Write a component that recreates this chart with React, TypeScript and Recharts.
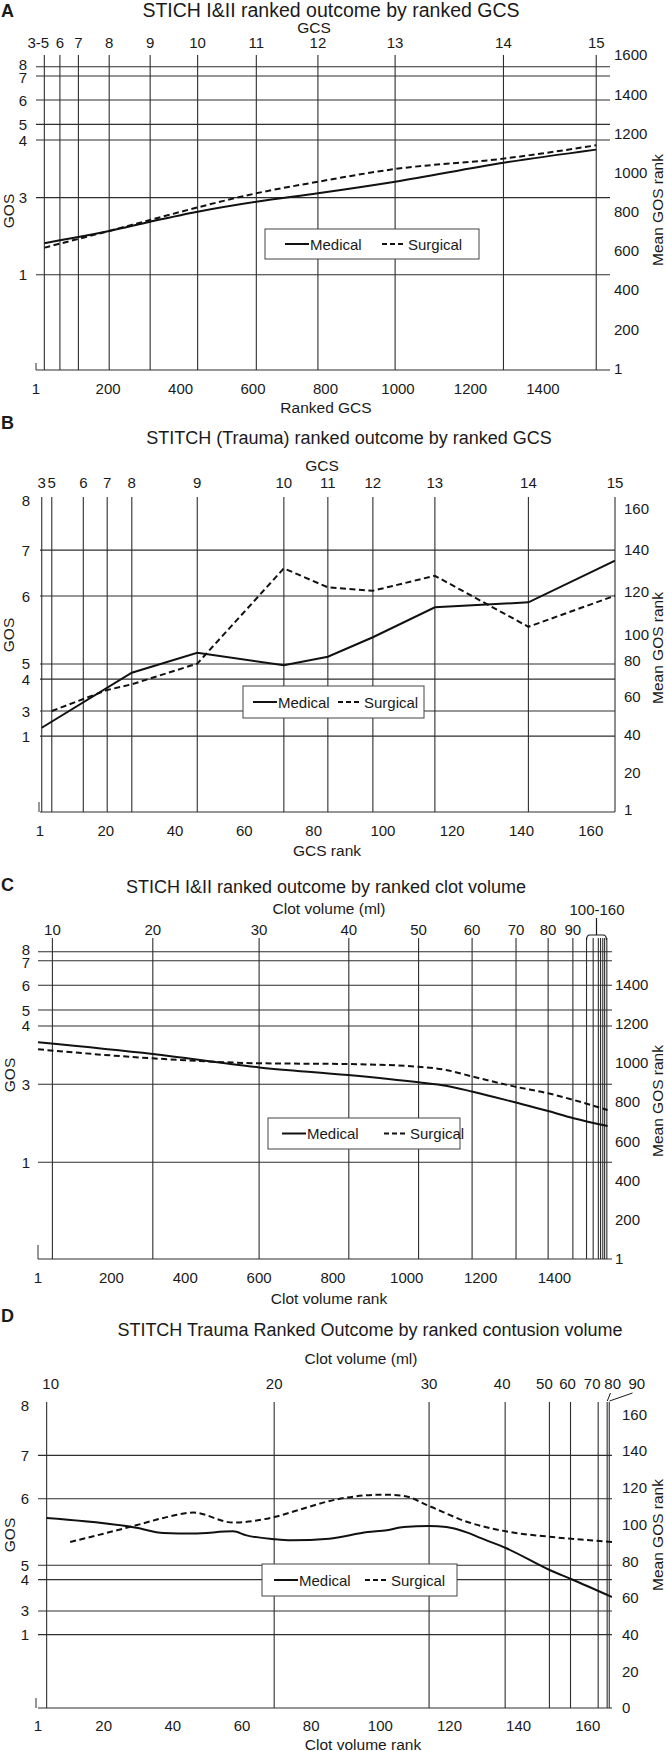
import React from 'react';
import { ComposedChart, Line, XAxis, YAxis, ReferenceLine } from 'recharts';

const W = 666;
const FONT = 'Arial, "Liberation Sans", Helvetica, sans-serif';
const INK = '#1a1a1a';
const GRID = '#2e2e2e';

// ---------- A: STICH I&II, outcome by ranked GCS ----------
const aGcsRanks = [24, 67, 118, 203, 316, 447, 609, 779, 992, 1291, 1547];
const aGcsLabels = ['3-5', '6', '7', '8', '9', '10', '11', '12', '13', '14', '15'];
const aRankTicks = [1, 200, 400, 600, 800, 1000, 1200, 1400];
const aMeanTicks = [1, 200, 400, 600, 800, 1000, 1200, 1400, 1600];
const aGosRanks = [478, 872, 1166, 1246, 1370, 1493, 1540];
const aGosLabels = ['1', '3', '4', '5', '6', '7', '8'];
const aMedical = [639, 654, 671, 702, 749, 800, 851, 894, 953, 1050, 1117];
const aSurgical = [616, 637, 661, 702, 758, 822, 894, 953, 1018, 1071, 1139];

// ---------- B: STITCH (Trauma), outcome by ranked GCS ----------
const bGcsRanks = [1.5, 4.4, 13.5, 20.4, 27.5, 46.4, 71.4, 84.1, 97.1, 115, 142, 167];
const bGcsLabels = ['3', '5', '6', '7', '8', '9', '10', '11', '12', '13', '14', '15'];
const bRankTicks = [1, 20, 40, 60, 80, 100, 120, 140, 160];
// the printed right axis is not evenly spaced: label positions
const bMeanTicks = [1, 20.6, 40.6, 60.6, 80, 93.3, 116, 138, 160];
const bMeanLabels = ['1', '20', '40', '60', '80', '100', '120', '140', '160'];
const bGosRanks = [40, 53.2, 70, 78, 113.8, 138, 164.4];
const bGosLabels = ['1', '3', '4', '5', '6', '7', '8'];
const bGosLines = [40, 53.2, 70, 78, 113.8, 138];
const bMedicalRanks = [1.5, 27.5, 46.4, 71.4, 84.1, 97.1, 115, 142, 167];
const bMedical = [44.4, 73.4, 83.9, 77.3, 81.8, 92.1, 107.9, 110.5, 132.4];
const bSurgicalRanks = [4.4, 20.4, 27.5, 46.4, 71.4, 84.1, 97.1, 115, 142, 167];
const bSurgical = [53.2, 64.3, 67.3, 78.2, 128.4, 118.4, 116.6, 124.5, 97.6, 114];

// ---------- C: STICH I&II, outcome by ranked clot volume ----------
const cVolRanks = [40, 312, 600, 843, 1032, 1177, 1296, 1383, 1450];
const cVolLabels = ['10', '20', '30', '40', '50', '60', '70', '80', '90'];
const cTailRanks = [1487, 1505, 1519, 1525, 1531, 1536, 1542]; // 100-160 ml
const cRankTicks = [1, 200, 400, 600, 800, 1000, 1200, 1400];
const cMeanTicks = [1, 200, 400, 600, 800, 1000, 1200, 1400];
const cGosRanks = [494, 891, 1188, 1269, 1395, 1520, 1566];
const cGosLabels = ['1', '3', '4', '5', '6', '7', '8'];
const cCurveRanks = [1, 312, 600, 841, 1032, 1106, 1179, 1293, 1383, 1452, 1544];
const cMedical = [1105, 1045, 977, 938, 901, 884, 853, 799, 755, 718, 678];
const cSurgical = [1069, 1023, 998, 994, 980, 964, 930, 879, 845, 811, 760];

// ---------- D: STITCH Trauma, outcome by ranked contusion volume ----------
const dVolRanks = [3.5, 69.3, 114.1, 136.1, 148.9, 155, 163, 165.6, 166.2];
const dVolLabels = ['10', '20', '30', '40', '50', '60', '70', '80', '90'];
const dRankTicks = [1, 20, 40, 60, 80, 100, 120, 140, 160];
const dMeanTicks = [0, 20, 40, 60, 80, 100, 120, 140, 160];
const dGosRanks = [40, 52.9, 70, 77.8, 114.1, 137.7, 165];
const dGosLabels = ['1', '3', '4', '5', '6', '7', '8'];
const dGosLines = [40, 52.9, 70, 77.8, 114.1, 137.7];
const dMedicalRanks = [3.5, 29.4, 37.3, 45.9, 57.4, 61.3, 69.3, 74.2, 85.2, 96.3, 101.9, 106.8, 114.1, 119.1, 125.2, 128.9, 136.3, 149.1, 155.3, 167];
const dMedical = [103.6, 98.3, 95.4, 95.1, 96.3, 94.1, 92, 91.4, 92.3, 95.9, 96.9, 98.7, 99.2, 98.7, 95.6, 92.7, 87.2, 75.1, 70.2, 60.5];
const dSurgicalRanks = [10.3, 29.4, 37.3, 45.9, 57.4, 69.3, 76.1, 87.1, 100.6, 106.8, 114.1, 125.2, 136.3, 149.8, 167];
const dSurgical = [90.5, 99.6, 103.6, 106.5, 101.1, 104.1, 107.8, 113.6, 116.3, 115.6, 110.1, 101.4, 96.3, 93.2, 90.5];

type PanelProps = {
  top: number;
  height: number;
  plot: { left: number; right: number; top: number; bottom: number };
  xDomain: [number, number];
  yDomain: [number, number];
  topTicks: number[];
  topLabels: string[];
  topDx?: number[];
  extraVLines?: number[];
  bottomTicks: number[];
  rightTicks: number[];
  rightLabels?: string[];
  gosTicks: number[];
  gosLabels: string[];
  gosDy?: number[];
  gosLines: number[];
  medX: number[];
  med: number[];
  surX: number[];
  sur: number[];
  curve: 'monotone' | 'linear';
  gaps: { top: number; bottom: number; left: number; right: number };
};

const tickStyle = { fontSize: 15, fill: INK, fontFamily: FONT };

function Panel(p: PanelProps) {
  const HT = 20;
  const HB = 30;
  const margin = { top: p.plot.top - HT, right: 0, bottom: p.height - p.plot.bottom - HB, left: 0 };
  const medData = p.medX.map((r, i) => ({ rank: r, v: p.med[i] }));
  const surData = p.surX.map((r, i) => ({ rank: r, v: p.sur[i] }));
  const vlines = [...p.topTicks, ...(p.extraVLines || [])];

  const renderTop = (t: any) => {
    const i = p.topTicks.indexOf(t.payload.value);
    const dx = p.topDx ? p.topDx[i] : 0;
    return (
      <text x={t.x + dx} y={t.y} textAnchor="middle" fontSize={15} fill={INK} fontFamily={FONT}>
        {p.topLabels[i]}
      </text>
    );
  };

  const renderLeft = (t: any) => {
    const i = p.gosTicks.indexOf(t.payload.value);
    const dy = p.gosDy ? p.gosDy[i] : 0;
    return (
      <text x={t.x} y={t.y + dy} textAnchor="end" dominantBaseline="central" fontSize={15} fill={INK} fontFamily={FONT}>
        {p.gosLabels[i]}
      </text>
    );
  };

  return (
    <div style={{ position: 'absolute', left: 0, top: p.top }}>
      <ComposedChart width={W} height={p.height} margin={margin}>
        <XAxis xAxisId="top" orientation="top" type="number" dataKey="rank" domain={p.xDomain}
          allowDataOverflow ticks={p.topTicks} interval={0} height={HT} tickSize={0}
          tickMargin={p.gaps.top} axisLine={false} tickLine={false} tick={renderTop} />
        <XAxis xAxisId="bottom" orientation="bottom" type="number" dataKey="rank" domain={p.xDomain}
          allowDataOverflow ticks={p.bottomTicks} interval={0} height={HB} tickSize={0}
          tickMargin={p.gaps.bottom} axisLine={{ stroke: GRID, strokeWidth: 1.2 }} tickLine={false} tick={tickStyle} />
        <YAxis yAxisId="left" orientation="left" type="number" domain={p.yDomain} allowDataOverflow
          ticks={p.gosTicks} interval={0} width={p.plot.left} tickSize={0} tickMargin={p.gaps.left}
          axisLine={false} tickLine={false} tick={renderLeft} />
        <YAxis yAxisId="right" orientation="right" type="number" domain={p.yDomain} allowDataOverflow
          ticks={p.rightTicks} interval={0} width={W - p.plot.right} tickSize={0} tickMargin={p.gaps.right}
          axisLine={false} tickLine={false} tick={tickStyle}
          tickFormatter={(v: number) => (p.rightLabels ? p.rightLabels[p.rightTicks.indexOf(v)] : String(v))} />
        {vlines.map((r) => (
          <ReferenceLine key={'v' + r} xAxisId="bottom" yAxisId="right" x={r} stroke={GRID} strokeWidth={1.1} />
        ))}
        {p.gosLines.map((v) => (
          <ReferenceLine key={'h' + v} xAxisId="bottom" yAxisId="right" y={v} stroke={GRID} strokeWidth={1.1} />
        ))}
        <Line xAxisId="bottom" yAxisId="right" data={medData} dataKey="v" type={p.curve}
          stroke="#111" strokeWidth={2} dot={false} isAnimationActive={false} />
        <Line xAxisId="bottom" yAxisId="right" data={surData} dataKey="v" type={p.curve}
          stroke="#111" strokeWidth={2} strokeDasharray="6 3.5" dot={false} isAnimationActive={false} />
      </ComposedChart>
    </div>
  );
}

function T({ x, y, size = 15.5, bold = false, anchor = 'middle', rotate = false, children }: any) {
  return (
    <text
      x={rotate ? 0 : x}
      y={rotate ? 0 : y}
      transform={rotate ? `translate(${x},${y}) rotate(-90)` : undefined}
      textAnchor={anchor}
      dominantBaseline="central"
      fontSize={size}
      fontWeight={bold ? 700 : 400}
      fill={INK}
      fontFamily={FONT}
    >
      {children}
    </text>
  );
}

function LegendBox({ x, y, w, h, solid, dash }: { x: number; y: number; w: number; h: number; solid: number; dash: number }) {
  const cy = y + h / 2;
  return (
    <g>
      <rect x={x} y={y} width={w} height={h} fill="#fff" stroke="#444" strokeWidth={1} />
      <line x1={solid} x2={solid + 24} y1={cy} y2={cy} stroke="#111" strokeWidth={2} />
      <T x={solid + 25} y={cy} size={15} anchor="start">Medical</T>
      <line x1={dash} x2={dash + 24} y1={cy} y2={cy} stroke="#111" strokeWidth={2} strokeDasharray="5 3" />
      <T x={dash + 26} y={cy} size={15} anchor="start">Surgical</T>
    </g>
  );
}

function Overlay() {
  return (
    <svg width={W} height={1751} style={{ position: 'absolute', left: 0, top: 0, pointerEvents: 'none' }}>
      {/* A */}
      <T x={1} y={11} size={18} bold anchor="start">A</T>
      <T x={331} y={10} size={19.5}>STICH I&amp;II ranked outcome by ranked GCS</T>
      <T x={314} y={27}>GCS</T>
      <T x={326} y={407}>Ranked GCS</T>
      <T x={8} y={211} rotate>GOS</T>
      <T x={657} y={210} rotate>Mean GOS rank</T>
      <line x1={36} x2={36} y1={363} y2={370} stroke={GRID} />
      <LegendBox x={265} y={229} w={214} h={30} solid={285} dash={382} />

      {/* B */}
      <T x={1} y={423} size={18} bold anchor="start">B</T>
      <T x={349} y={438} size={18}>STITCH (Trauma) ranked outcome by ranked GCS</T>
      <T x={322} y={465}>GCS</T>
      <T x={327} y={850}>GCS rank</T>
      <T x={8} y={635} rotate>GOS</T>
      <T x={657} y={648} rotate>Mean GOS rank</T>
      <line x1={39} x2={39} y1={802} y2={812} stroke={GRID} />
      <LegendBox x={243} y={686} w={181} h={32} solid={253} dash={338} />

      {/* C */}
      <T x={1} y={885} size={18} bold anchor="start">C</T>
      <T x={326} y={887} size={18}>STICH I&amp;II ranked outcome by ranked clot volume</T>
      <T x={329} y={908}>Clot volume (ml)</T>
      <T x={597} y={909} size={15}>100-160</T>
      <path d="M586.5,940 Q586.5,935 590,935 L603,935 Q606.5,935 606.5,940 M596.5,935 L596.5,918"
        fill="none" stroke={INK} strokeWidth={1.2} />
      <T x={329} y={1298}>Clot volume rank</T>
      <T x={9} y={1075} rotate>GOS</T>
      <T x={657} y={1101} rotate>Mean GOS rank</T>
      <line x1={38} x2={38} y1={1245} y2={1259} stroke={GRID} />
      <LegendBox x={268} y={1118} w={192} h={31} solid={282} dash={384} />

      {/* D */}
      <T x={1} y={1316} size={18} bold anchor="start">D</T>
      <T x={370} y={1330} size={18}>STITCH Trauma Ranked Outcome by ranked contusion volume</T>
      <T x={361} y={1358}>Clot volume (ml)</T>
      <T x={363} y={1744}>Clot volume rank</T>
      <T x={9} y={1535} rotate>GOS</T>
      <T x={657} y={1535} rotate>Mean GOS rank</T>
      <line x1={610.5} x2={607.3} y1={1393} y2={1401} stroke={INK} strokeWidth={1} />
      <line x1={632.5} x2={609.5} y1={1393} y2={1401} stroke={INK} strokeWidth={1} />
      <line x1={36} x2={36} y1={1698} y2={1708} stroke={GRID} />
      <LegendBox x={262} y={1564} w={195} h={32} solid={274} dash={365} />
    </svg>
  );
}

export default function App() {
  return (
    <div style={{ position: 'absolute', left: 0, top: 0, width: W, height: 1751, background: '#fff', fontFamily: FONT }}>
      <Panel
        top={0} height={420}
        plot={{ left: 36, right: 610, top: 55, bottom: 370 }}
        xDomain={[1, 1585]} yDomain={[-8, 1600]}
        topTicks={aGcsRanks} topLabels={aGcsLabels} topDx={[-6, 0, 0, 0, 0, 0, 0, 0, 0, 0, 0]}
        bottomTicks={aRankTicks} rightTicks={aMeanTicks}
        gosTicks={aGosRanks} gosLabels={aGosLabels} gosDy={[0, 0, 0, 0, 0, 2, -2]} gosLines={aGosRanks}
        medX={aGcsRanks} med={aMedical} surX={aGcsRanks} sur={aSurgical}
        curve="monotone"
        gaps={{ top: 7, bottom: 13, left: 9, right: 4 }}
      />
      <Panel
        top={420} height={440}
        plot={{ left: 40, right: 615, top: 77, bottom: 392 }}
        xDomain={[1, 167]} yDomain={[0, 166]}
        topTicks={bGcsRanks} topLabels={bGcsLabels}
        bottomTicks={bRankTicks} rightTicks={bMeanTicks} rightLabels={bMeanLabels}
        gosTicks={bGosRanks} gosLabels={bGosLabels} gosLines={bGosLines}
        medX={bMedicalRanks} med={bMedical} surX={bSurgicalRanks} sur={bSurgical}
        curve="linear"
        gaps={{ top: 9, bottom: 13, left: 10, right: 9 }}
      />
      <Panel
        top={860} height={450}
        plot={{ left: 38, right: 612, top: 78, bottom: 399 }}
        xDomain={[1, 1556]} yDomain={[1, 1636]}
        topTicks={cVolRanks} topLabels={cVolLabels} extraVLines={cTailRanks}
        bottomTicks={cRankTicks} rightTicks={cMeanTicks}
        gosTicks={cGosRanks} gosLabels={cGosLabels} gosDy={[0, 0, 0, 0, 0, 2, -2]} gosLines={cGosRanks}
        medX={cCurveRanks} med={cMedical} surX={cCurveRanks} sur={cSurgical}
        curve="monotone"
        gaps={{ top: 3, bottom: 13, left: 8, right: 3 }}
      />
      <Panel
        top={1310} height={441}
        plot={{ left: 38, right: 612, top: 92, bottom: 398 }}
        xDomain={[1, 167]} yDomain={[0, 166.8]}
        topTicks={dVolRanks} topLabels={dVolLabels} topDx={[4, 0, 0, -3, -5, -3, -6, 5.5, 27.5]}
        bottomTicks={dRankTicks} rightTicks={dMeanTicks}
        gosTicks={dGosRanks} gosLabels={dGosLabels} gosLines={dGosLines}
        medX={dMedicalRanks} med={dMedical} surX={dSurgicalRanks} sur={dSurgical}
        curve="monotone"
        gaps={{ top: 13, bottom: 12, left: 9, right: 10 }}
      />
      <Overlay />
    </div>
  );
}
